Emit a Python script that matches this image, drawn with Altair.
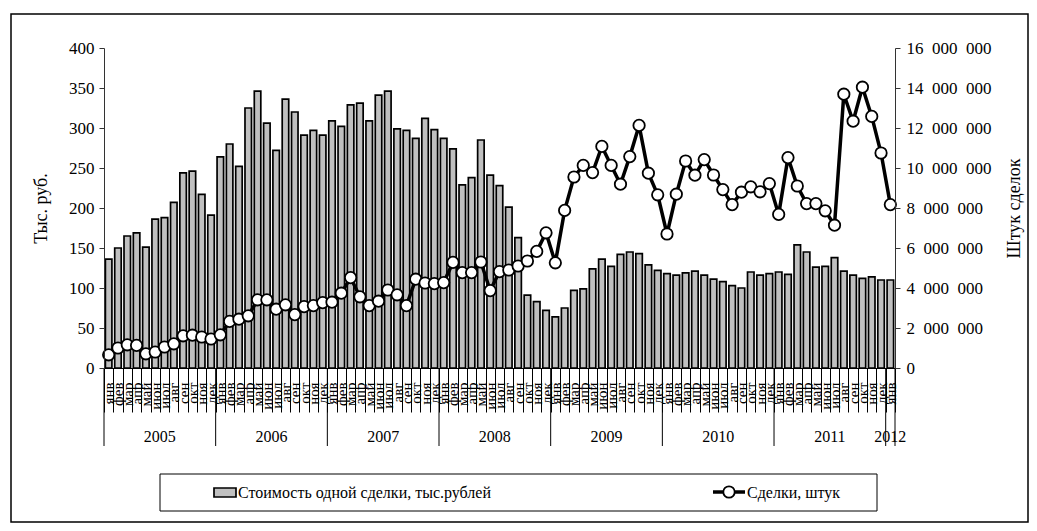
import altair as alt
import pandas as pd

months = ["янв", "фев", "мар", "апр", "май", "июн", "июл", "авг", "сен", "окт", "ноя", "дек"]
years = ["2005", "2006", "2007", "2008", "2009", "2010", "2011", "2012"]

# Стоимость одной сделки, тыс. рублей (Jan 2005 .. Jan 2012)
cost = [
    136, 150, 165, 169, 151, 186, 188, 207, 244, 246, 217, 191,
    264, 280, 252, 325, 346, 306, 272, 336, 320, 291, 297, 291,
    309, 302, 329, 331, 309, 341, 346, 299, 297, 287, 312, 298,
    287, 274, 229, 238, 285, 241, 228, 201, 163, 91, 83, 72,
    64, 75, 97, 99, 124, 136, 127, 142, 145, 143, 129, 122,
    118, 116, 119, 121, 116, 111, 108, 103, 100, 120, 116, 118,
    120, 117, 154, 145, 126, 127, 138, 121, 116, 112, 114, 110,
    110,
]

# Сделки, штук
deals = [
    660000, 1000000, 1160000, 1130000, 710000, 800000, 1050000, 1210000, 1610000, 1640000, 1550000, 1450000,
    1660000, 2330000, 2440000, 2610000, 3410000, 3410000, 2940000, 3160000, 2670000, 3070000, 3120000, 3270000,
    3290000, 3740000, 4520000, 3560000, 3120000, 3340000, 3900000, 3660000, 3120000, 4440000, 4250000, 4220000,
    4270000, 5280000, 4770000, 4770000, 5300000, 3870000, 4820000, 4900000, 5100000, 5350000, 5830000, 6760000,
    5260000, 7880000, 9550000, 10130000, 9770000, 11080000, 10130000, 9190000, 10570000, 12130000, 9740000, 8660000,
    6700000, 8690000, 10350000, 9640000, 10420000, 9650000, 8920000, 8170000, 8790000, 9060000, 8810000, 9220000,
    7680000, 10520000, 9100000, 8220000, 8220000, 7860000, 7140000, 13690000, 12340000, 14040000, 12580000, 10750000,
    8170000,
]

legend_labels = ["Стоимость одной сделки, тыс.рублей", "Сделки, штук"]
left_title = "Тыс. руб."
right_title = "Штук сделок"

FONT = "Liberation Serif"
n = len(cost)
df = pd.DataFrame({"idx": list(range(n)), "cost": cost, "deals": deals})

year_start = pd.DataFrame({"idx": [0, 12, 24, 36, 48, 60, 72, 84]})
year_end = pd.DataFrame({"idx": [n - 1]})
year_mid = pd.DataFrame({"idx": [6, 18, 30, 42, 54, 66, 78], "year": years[:7]})
year_last = pd.DataFrame({"idx": [84], "year": [years[7]]})
one = pd.DataFrame({"k": [0]})

month_js = "[" + ",".join("'%s'" % m for m in months) + "]"
x_axis = alt.Axis(
    title=None, labelExpr=month_js + "[datum.value % 12]", labelAngle=270,
    labelFont=FONT, labelFontSize=15, labelColor="black", labelPadding=-30,
    tickBand="extent", tickSize=44, tickColor="black", tickWidth=1,
    domainColor="black", domainWidth=1, zindex=1,
)
x_scale = alt.Scale(domain=list(range(n)), paddingInner=0, paddingOuter=0)


def xenc(bp=None):
    if bp is None:
        return alt.X("idx:O", scale=x_scale, axis=x_axis)
    return alt.X("idx:O", scale=x_scale, axis=x_axis, bandPosition=bp)


bars = alt.Chart(df).mark_bar(
    width=alt.RelativeBandSize(0.7), color="#C0C0C0", stroke="black", strokeWidth=1.7
).encode(
    x=xenc(),
    y=alt.Y("cost:Q", scale=alt.Scale(domain=[0, 400]),
            axis=alt.Axis(values=list(range(0, 401, 50)), title=left_title, orient="left",
                          labelFont=FONT, labelFontSize=17, labelColor="black", labelPadding=5,
                          tickSize=5, tickColor="#333", domainColor="#333", grid=False,
                          titleFont=FONT, titleFontSize=18, titleFontWeight="normal",
                          titleColor="black", titlePadding=18, zindex=1)),
)

deal_scale = alt.Scale(domain=[0, 16000000])
line = alt.Chart(df).mark_line(color="black", strokeWidth=3.5).encode(
    x=xenc(),
    y=alt.Y("deals:Q", scale=deal_scale,
            axis=alt.Axis(values=list(range(0, 16000001, 2000000)), orient="right",
                          labelExpr="replace(format(datum.value, ','), /,/g, '\u2002')",
                          title=right_title, titleAngle=270,
                          labelFont=FONT, labelFontSize=17, labelColor="black", labelPadding=6,
                          tickSize=5, tickColor="#333", domainColor="#333", grid=False,
                          titleFont=FONT, titleFontSize=18, titleFontWeight="normal",
                          titleColor="black", titlePadding=32, zindex=1)),
)
points = alt.Chart(df).mark_point(
    filled=True, fill="white", stroke="black", strokeWidth=1.8, size=130, opacity=1
).encode(
    x=xenc(),
    y=alt.Y("deals:Q", scale=deal_scale, axis=None),
)

div_rules = alt.Chart(year_start).mark_rule(color="black", strokeWidth=1).encode(
    x=xenc(0), y=alt.value(320), y2=alt.value(398))
end_rule = alt.Chart(year_end).mark_rule(color="black", strokeWidth=1).encode(
    x=xenc(1), y=alt.value(320), y2=alt.value(398))
year_txt = alt.Chart(year_mid).mark_text(font=FONT, fontSize=16, color="black", baseline="middle").encode(
    x=xenc(0), y=alt.value(389), text="year:N")
year_txt2 = alt.Chart(year_last).mark_text(font=FONT, fontSize=16, color="black", baseline="middle").encode(
    x=xenc(0.5), y=alt.value(389), text="year:N")

frame = alt.Chart(one).mark_rect(fill="white", fillOpacity=0, stroke="black", strokeWidth=1.5).encode(
    x=alt.value(-93), x2=alt.value(924), y=alt.value(-34), y2=alt.value(474))
leg_box = alt.Chart(one).mark_rect(fill="white", stroke="black", strokeWidth=1).encode(
    x=alt.value(56), x2=alt.value(773), y=alt.value(426), y2=alt.value(463))
leg_bar = alt.Chart(one).mark_rect(fill="#C0C0C0", stroke="black", strokeWidth=1.7).encode(
    x=alt.value(110), x2=alt.value(132), y=alt.value(440), y2=alt.value(449))
leg_t1 = alt.Chart(one).mark_text(font=FONT, fontSize=16, align="left", baseline="middle", color="black").encode(
    x=alt.value(134), y=alt.value(445), text=alt.value(legend_labels[0]))
leg_line = alt.Chart(one).mark_rule(color="black", strokeWidth=3.5).encode(
    x=alt.value(609), x2=alt.value(641), y=alt.value(444))
leg_pt = alt.Chart(one).mark_point(filled=True, fill="white", stroke="black", strokeWidth=1.8, size=130, opacity=1).encode(
    x=alt.value(625), y=alt.value(444))
leg_t2 = alt.Chart(one).mark_text(font=FONT, fontSize=16, align="left", baseline="middle", color="black").encode(
    x=alt.value(643), y=alt.value(445), text=alt.value(legend_labels[1]))

chart = alt.layer(
    frame, bars, line, points, div_rules, end_rule, year_txt, year_txt2,
    leg_box, leg_bar, leg_t1, leg_line, leg_pt, leg_t2,
).resolve_scale(y="independent").properties(
    width=791, height=320,
    autosize=alt.AutoSizeParams(type="none"),
    padding={"left": 96, "top": 40, "right": 134, "bottom": 155},
    background="white",
).configure_view(stroke=None)

chart.save("out.html", embed_options={"renderer": "svg", "actions": False})
